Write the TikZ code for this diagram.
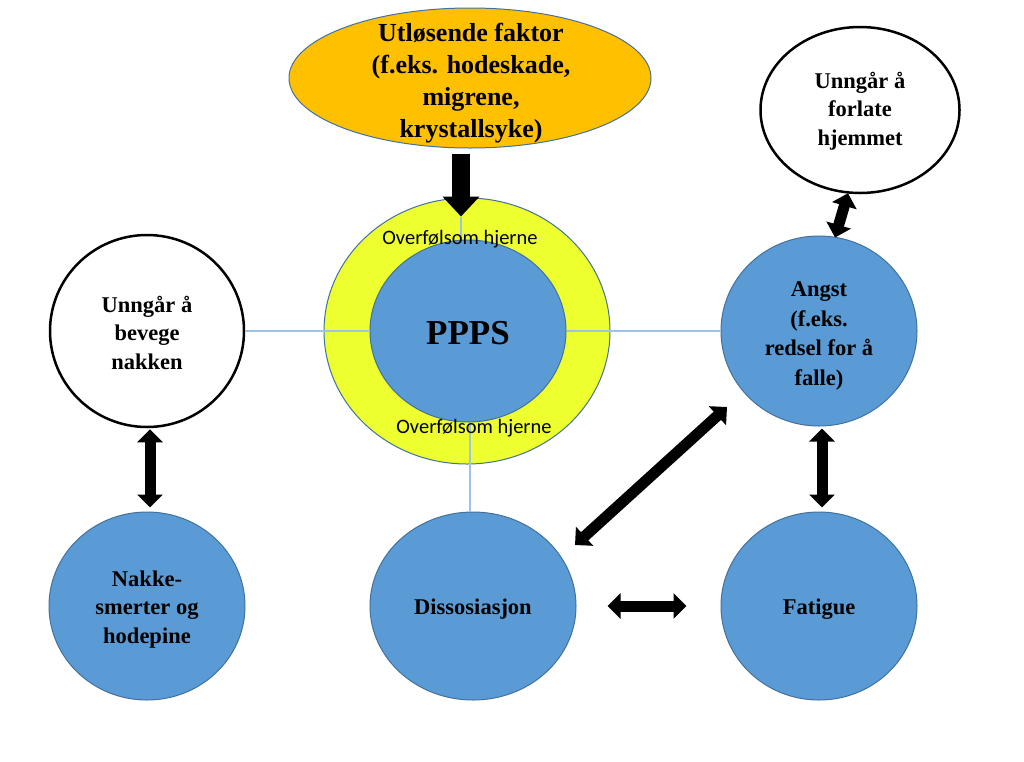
\documentclass[tikz,border=0pt]{standalone}
\usepackage{fontspec}
\setmainfont{Liberation Serif}
\newfontfamily\calib{Carlito}
\usetikzlibrary{shapes.geometric,arrows.meta,calc}
\definecolor{orangefill}{HTML}{FFC000}
\definecolor{ringyellow}{HTML}{EEFF30}
\definecolor{bluefill}{HTML}{5B9BD5}
\definecolor{blueedge}{HTML}{41719C}
\definecolor{linkblue}{HTML}{9DC3E6}
\newcommand{\ctxt}[2][3pt]{\raisebox{-#1}[\height][\depth]{\begin{tabular}{@{}c@{}}#2\end{tabular}}}
\begin{document}
\begin{tikzpicture}[x=1pt,y=-1pt,
  lbl/.style={font=\fontsize{22.5}{28.5}\selectfont\bfseries, align=center, text=black},
  bluenode/.style={ellipse, draw=blueedge, line width=1pt, fill=bluefill, inner sep=0pt, lbl},
  whitenode/.style={ellipse, draw=black, line width=2.5pt, fill=white, inner sep=0pt, lbl},
  link/.style={draw=linkblue, line width=1.2pt},
  dbl/.style={line width=11pt, {Triangle[width=25pt,length=13pt]}-{Triangle[width=25pt,length=13pt]}},
  ringlabel/.style={font=\calib\fontsize{20.5}{24}\selectfont, text=black},
]
\useasboundingbox (0,0) rectangle (1024,761);
\fill[white] (0,0) rectangle (1024,761);

% trigger
\node[ellipse, draw=blueedge, line width=1pt, fill=orangefill, inner sep=0pt,
      minimum width=362pt, minimum height=140pt] (trig) at (470,78) {};
\node[font=\fontsize{26}{32}\selectfont\bfseries, align=center, text=black] (trigtext) at (471,83)
  {Utløsende faktor\\(f.eks. hodeskade,\\migrene,\\krystallsyke)};

% central ring and core
\node[ellipse, draw=blueedge, line width=1pt, fill=ringyellow, inner sep=0pt,
      minimum width=286pt, minimum height=266pt] (ring) at (467,331) {};
\node[bluenode, minimum width=196pt, minimum height=182pt,
      font=\fontsize{35}{40}\selectfont\bfseries] (ppps) at (468,331) {\ctxt[5pt]{PPPS}};

% surrounding nodes
\node[whitenode, minimum width=194pt, minimum height=192pt] (bev) at (147,331) {\ctxt[4pt]{Unngår å\\bevege\\nakken}};
\node[whitenode, minimum width=199pt, minimum height=166pt] (hjem) at (860,110) {\ctxt[1pt]{Unngår å\\forlate\\hjemmet}};
\node[bluenode, minimum width=196pt, minimum height=190pt,
      font=\fontsize{22.5}{29.5}\selectfont\bfseries] (angst) at (819,331) {\ctxt[4pt]{Angst\\(f.eks.\\redsel for å\\falle)}};
\node[bluenode, minimum width=196pt, minimum height=188pt] (nak) at (147,606) {\ctxt[3pt]{Nakke-\\smerter og\\hodepine}};
\node[bluenode, minimum width=206pt, minimum height=188pt] (dis) at (473,606) {\ctxt[3pt]{Dissosiasjon}};
\node[bluenode, minimum width=196pt, minimum height=188pt] (fat) at (819,606) {\ctxt[3pt]{Fatigue}};

% thin links
\coordinate (tip) at ($(ppps.north)+(-7,-23)$);
\draw[link] (bev.east) -- (ppps.west);
\draw[link] (ppps.east) -- (angst.west);
\draw[link] ($(ppps.south)+(2,0)$) -- ($(dis.north)+(-3,0)$);
\draw[link] (tip) -- (tip |- ppps.north);

% ring labels
\node[ringlabel] (ovtop) at (460,239) {Overfølsom hjerne};
\node[ringlabel] (ovbot) at (474,428) {Overfølsom hjerne};

% block arrows
\draw[line width=18pt, -{Triangle[width=36pt,length=20pt]}] ($(trig.south)+(-9,5)$) -- (tip);
\draw[dbl] ($(bev.south)+(3,1)$) -- ($(nak.north)+(3,-4)$);
\draw[dbl] ($(angst.south)+(3,2)$) -- ($(fat.north)+(3,-4)$);
\draw[dbl] ($(dis.east)+(31,0)$) -- ($(fat.west)+(-34,0)$);
\draw[dbl] ($(dis.center)+(102,-61)$) -- ($(angst.center)+(-92,76)$);
\draw[dbl] ($(hjem.south)+(-12,-1)$) -- ($(angst.north)+(16,2)$);
\end{tikzpicture}
\end{document}
